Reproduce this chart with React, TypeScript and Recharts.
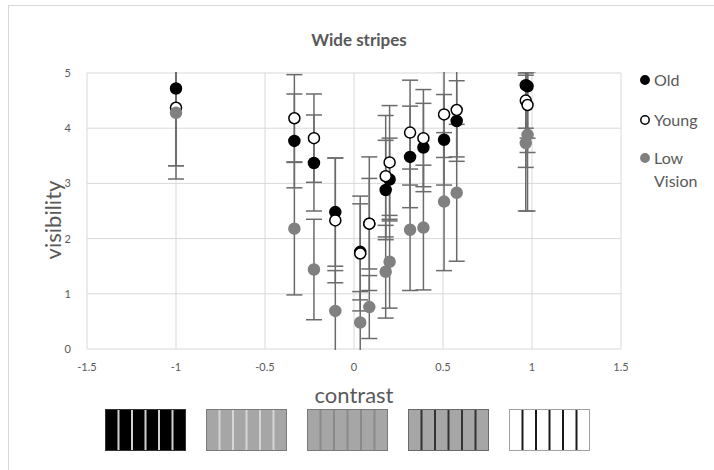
import React from 'react';
import { ScatterChart, Scatter, XAxis, YAxis, CartesianGrid, ErrorBar } from 'recharts';

const FONT = 'Lato, "Open Sans", sans-serif';
const TEXT = '#595959';

// contrast positions shared by the three groups
const contrast = [-1, -0.335, -0.225, -0.105, 0.035, 0.086, 0.178, 0.2, 0.315, 0.39, 0.506, 0.577, 0.965, 0.975];

const oldVis = [4.72, 3.77, 3.37, 2.48, 1.76, 2.27, 2.88, 3.07, 3.48, 3.65, 3.79, 4.13, 4.78, 4.76];
const oldErr = [1.4, 0.85, 0.87, 0.98, 0.87, 0.82, 0.9, 0.75, 0.92, 0.8, 0.82, 0.73, 1.49, 1.2];

const youngVis = [4.37, 4.18, 3.82, 2.33, 1.73, 2.27, 3.13, 3.38, 3.92, 3.82, 4.25, 4.33, 4.5, 4.42];
const youngErr = [1.05, 0.79, 0.8, 1.13, 1.04, 1.21, 1.1, 1.03, 0.95, 0.88, 0.78, 0.85, 0.5, 0.6];

const lowVis = [4.28, 2.18, 1.44, 0.69, 0.48, 0.76, 1.4, 1.58, 2.16, 2.2, 2.67, 2.83, 3.73, 3.88];
const lowErr = [1.2, 1.2, 0.91, 0.73, 0.56, 0.57, 0.84, 0.84, 1.1, 1.13, 1.25, 1.24, 1.23, 1.38];

const xTicks = [-1.5, -1, -0.5, 0, 0.5, 1, 1.5];
const yTicks = [0, 1, 2, 3, 4, 5];

const build = (ys: number[], errs: number[]) =>
  contrast.map((x, i) => ({ x, y: ys[i], err: errs[i] }));

const oldData = build(oldVis, oldErr);
const youngData = build(youngVis, youngErr);
const lowData = build(lowVis, lowErr);

const dot = (fill: string, stroke: string) => (props: any) => (
  <circle cx={props.cx} cy={props.cy} r={5.5} fill={fill} stroke={stroke} strokeWidth={1.5} />
);

const YTitle = () => (
  <text x={52} y={220} transform="rotate(-90 52 220)" textAnchor="middle" dominantBaseline="central" fill={TEXT} fontSize={22} fontFamily={FONT}>
    visibility
  </text>
);

// sample gratings shown under the axis
const swatches = [
  { bg: '#000000', line: '#d0d0d0', border: '#333333' },
  { bg: '#a6a6a6', line: '#d6d6d6', border: '#7a7a7a' },
  { bg: '#a6a6a6', line: '#8a8a8a', border: '#7a7a7a' },
  { bg: '#a6a6a6', line: '#333333', border: '#6a6a6a' },
  { bg: '#ffffff', line: '#1a1a1a', border: '#a0a0a0' },
];

const Swatch = ({ bg, line, border }: { bg: string; line: string; border: string }) => {
  const w = 81;
  const h = 42;
  return (
    <svg width={w} height={h} style={{ display: 'block' }}>
      <rect x={0.5} y={0.5} width={w - 1} height={h - 1} fill={bg} stroke={border} />
      {[1, 2, 3, 4, 5].map((k) => (
        <line key={k} x1={(k * w) / 6} x2={(k * w) / 6} y1={1} y2={h - 1} stroke={line} strokeWidth={2} />
      ))}
    </svg>
  );
};

const legendItems = [
  { label: ['Old'], fill: '#000000', stroke: '#000000', top: 68 },
  { label: ['Young'], fill: '#ffffff', stroke: '#000000', top: 108 },
  { label: ['Low', 'Vision'], fill: '#808080', stroke: '#808080', top: 146 },
];

export default function App() {
  return (
    <div style={{ position: 'absolute', left: 0, top: 0, width: 714, height: 470, background: '#fff', overflow: 'hidden', fontFamily: FONT }}>
      <ScatterChart width={714} height={470} margin={{ top: 73, right: 93, bottom: 101, left: 62 }} style={{ position: 'absolute', left: 0, top: 0 }}>
        <CartesianGrid stroke="#d9d9d9" strokeWidth={1} />
        <XAxis
          type="number"
          dataKey="x"
          domain={[-1.5, 1.5]}
          ticks={xTicks}
          axisLine={false}
          tickLine={false}
          height={20}
          tick={{ fill: TEXT, fontSize: 11, fontFamily: FONT }}
          tickMargin={8}
          label={{ value: 'contrast', position: 'bottom', offset: 18, fill: TEXT, fontSize: 22, fontFamily: FONT }}
        />
        <YAxis
          type="number"
          dataKey="y"
          domain={[0, 5]}
          ticks={yTicks}
          allowDataOverflow
          axisLine={false}
          tickLine={false}
          width={25}
          tick={{ fill: TEXT, fontSize: 11, fontFamily: FONT }}
          tickMargin={10}
          label={<YTitle />}
        />
        <Scatter name="Old" data={oldData} shape={dot('#000000', '#000000')} isAnimationActive={false}>
          <ErrorBar dataKey="err" direction="y" width={8} stroke="#6b6b6b" strokeWidth={1.5} />
        </Scatter>
        <Scatter name="Young" data={youngData} shape={dot('#ffffff', '#000000')} isAnimationActive={false}>
          <ErrorBar dataKey="err" direction="y" width={8} stroke="#6b6b6b" strokeWidth={1.5} />
        </Scatter>
        <Scatter name="Low Vision" data={lowData} shape={dot('#808080', '#808080')} isAnimationActive={false}>
          <ErrorBar dataKey="err" direction="y" width={8} stroke="#6b6b6b" strokeWidth={1.5} />
        </Scatter>
      </ScatterChart>
      {/* error bars stop at the plot frame */}
      <div style={{ position: 'absolute', left: 80, top: 0, width: 560, height: 72, background: '#fff' }} />
      <div style={{ position: 'absolute', left: 300, top: 350, width: 120, height: 8, background: '#fff' }} />
      <div style={{ position: 'absolute', left: 8, top: 5, width: 720, height: 480, border: '1px solid #d9d9d9' }} />
      <div style={{ position: 'absolute', left: 0, width: 714, top: 29, textAlign: 'center', paddingLeft: 2, fontSize: 17, fontWeight: 700, color: TEXT }}>
        Wide stripes
      </div>
      {legendItems.map((it) => (
        <div key={it.label[0]} style={{ position: 'absolute', left: 639, top: it.top, display: 'flex', alignItems: 'flex-start', color: TEXT, fontSize: 16, lineHeight: '23px' }}>
          <svg width={12} height={23} style={{ marginRight: 3 }}>
            <circle cx={6} cy={12} r={4.2} fill={it.fill} stroke={it.stroke} strokeWidth={1.5} />
          </svg>
          <div>
            {it.label.map((l) => (
              <div key={l}>{l}</div>
            ))}
          </div>
        </div>
      ))}
      <div style={{ position: 'absolute', left: 105, top: 409, display: 'flex', gap: 20 }}>
        {swatches.map((s, i) => (
          <Swatch key={i} {...s} />
        ))}
      </div>
    </div>
  );
}
